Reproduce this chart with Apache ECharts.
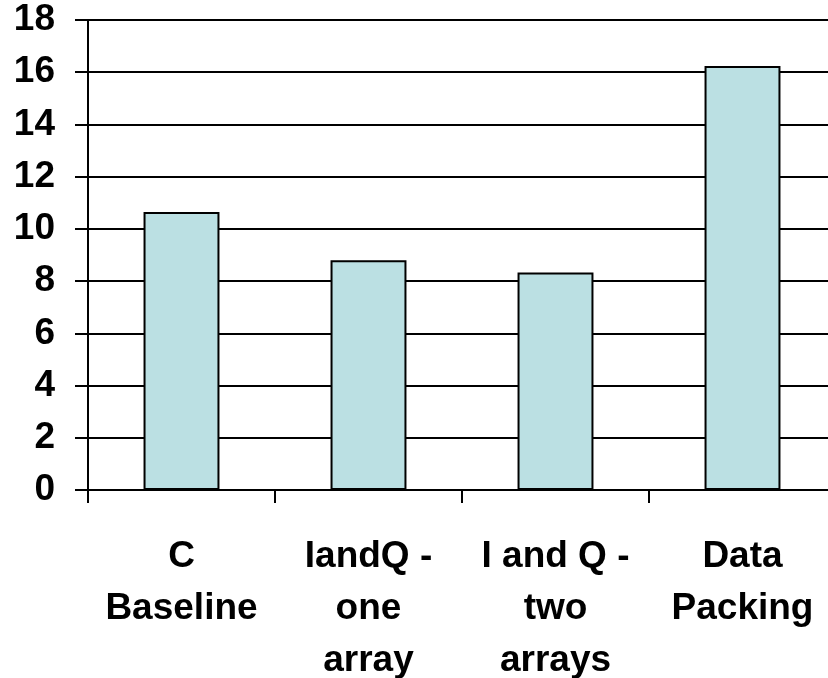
<!DOCTYPE html>
<html>
<head>
<meta charset="utf-8">
<script src="https://cdn.jsdelivr.net/npm/echarts@6/dist/echarts.min.js"></script>
<style>html,body{margin:0;padding:0;background:#fff}#c{width:828px;height:678px}</style>
</head>
<body>
<div id="c"></div>
<script>
var categories = ["C\nBaseline", "IandQ -\none\narray", "I and Q -\ntwo\narrays", "Data\nPacking"];
var values = [10.65, 8.80, 8.33, 16.24];
var yTicks = { min: 0, max: 18, interval: 2 };

var chart = echarts.init(document.getElementById('c'), null, { renderer: 'canvas' });
var font = '"Liberation Sans", Arial, sans-serif';
chart.setOption({
  animation: false,
  backgroundColor: '#ffffff',
  grid: { left: 88, top: 20, width: 748, height: 470, containLabel: false, outerBoundsMode: 'none' },
  xAxis: {
    type: 'category',
    data: categories,
    boundaryGap: true,
    axisLine: { show: true, lineStyle: { color: '#000', width: 2 } },
    axisTick: { show: true, length: 13, inside: false, lineStyle: { color: '#000', width: 2 } },
    axisLabel: { color: '#000', fontFamily: font, fontWeight: 'bold', fontSize: 37, lineHeight: 52, margin: 41, interval: 0 },
    splitLine: { show: false }
  },
  yAxis: {
    type: 'value',
    min: yTicks.min, max: yTicks.max, interval: yTicks.interval,
    axisLine: { show: true, lineStyle: { color: '#000', width: 2 } },
    axisTick: { show: true, length: 13, lineStyle: { color: '#000', width: 2 } },
    axisLabel: { color: '#000', fontFamily: font, fontWeight: 'bold', fontSize: 37, margin: 33, padding: [4, 0, 0, 0] },
    splitLine: { show: true, lineStyle: { color: '#000', width: 2 } }
  },
  series: [{
    type: 'bar',
    data: values,
    barWidth: '40.6%',
    itemStyle: { color: '#BBE0E3', borderColor: '#000', borderWidth: 2 }
  }]
});
</script>
</body>
</html>
